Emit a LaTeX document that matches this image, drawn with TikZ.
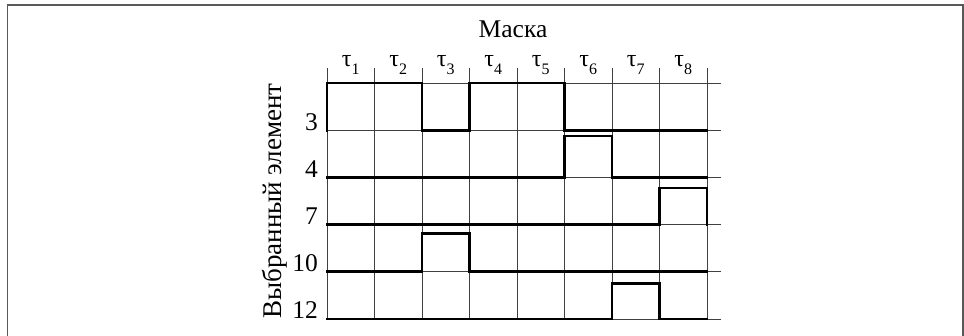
\documentclass[tikz,border=0pt]{standalone}
\usepackage{fontspec}
\setmainfont{Liberation Serif}
\newcommand{\tausub}[1]{τ\raisebox{-0.3em}{\fontsize{16}{17}\selectfont #1}}
\begin{document}
\begin{tikzpicture}[x=1pt,y=-1pt,
  grid/.style={draw=black!75,line width=0.9pt},
  sig/.style={draw=black,line width=2.8pt,line join=miter,line cap=rect},
  frame/.style={draw=black!65,line width=1.6pt},
  lbl/.style={font=\fontsize{25.5}{28}\selectfont,inner sep=0pt},
  ylbl/.style={font=\fontsize{27}{30}\selectfont,inner sep=0pt},
  tau/.style={font=\fontsize{24}{26}\selectfont,inner sep=0pt,anchor=base}]
\useasboundingbox (0,0) rectangle (964,336);
\fill[white] (0,0) rectangle (964,336);
% frame
\draw[frame] (7.5,336) -- (7.5,5) -- (964,5);
\draw[frame] (963,5) -- (963,336);
% grid
\foreach \i in {0,...,8} {
  \coordinate (v\i) at ({327+47.5*\i},68);
  \draw[grid] (v\i) -- ({327+47.5*\i},319);
}
\foreach \j in {0,...,5} {
  \coordinate (h\j) at (327,{83+47.2*\j});
  \draw[grid] (h\j) -- (721,{83+47.2*\j});
}
% labels
\node[lbl,anchor=base] (mask) at (513,38) {Маска};
\foreach \i in {1,...,8} {
  \node[tau] (t\i) at ({327+47.5*\i-23.75},67) {\tausub{\i}};
}
\node[lbl,anchor=base east] (r3) at (318,130.2) {3};
\node[lbl,anchor=base east] (r4) at (318,177.4) {4};
\node[lbl,anchor=base east] (r7) at (318,224.6) {7};
\node[lbl,anchor=base east] (r10) at (318,271.8) {10};
\node[lbl,anchor=base east] (r12) at (318,319) {12};
\node[ylbl,rotate=90,anchor=base] (ylab) at (281,201) {Выбранный элемент};
% signals
\draw[sig] (327,130.2) -- (327,83) -- (422,83) -- (422,130.2) -- (469.5,130.2) -- (469.5,83) -- (564.5,83) -- (564.5,130.2) -- (707,130.2);
\draw[sig] (327,177.4) -- (564.5,177.4) -- (564.5,136) -- (612,136) -- (612,177.4) -- (707,177.4);
\draw[sig] (327,224.6) -- (659.5,224.6) -- (659.5,188) -- (707,188) -- (707,224.6);
\draw[sig] (327,271.8) -- (422,271.8) -- (422,233.5) -- (469.5,233.5) -- (469.5,271.8) -- (707,271.8);
\draw[sig] (327,319) -- (612,319) -- (612,283.5) -- (659.5,283.5) -- (659.5,319) -- (707,319);
\end{tikzpicture}
\end{document}
